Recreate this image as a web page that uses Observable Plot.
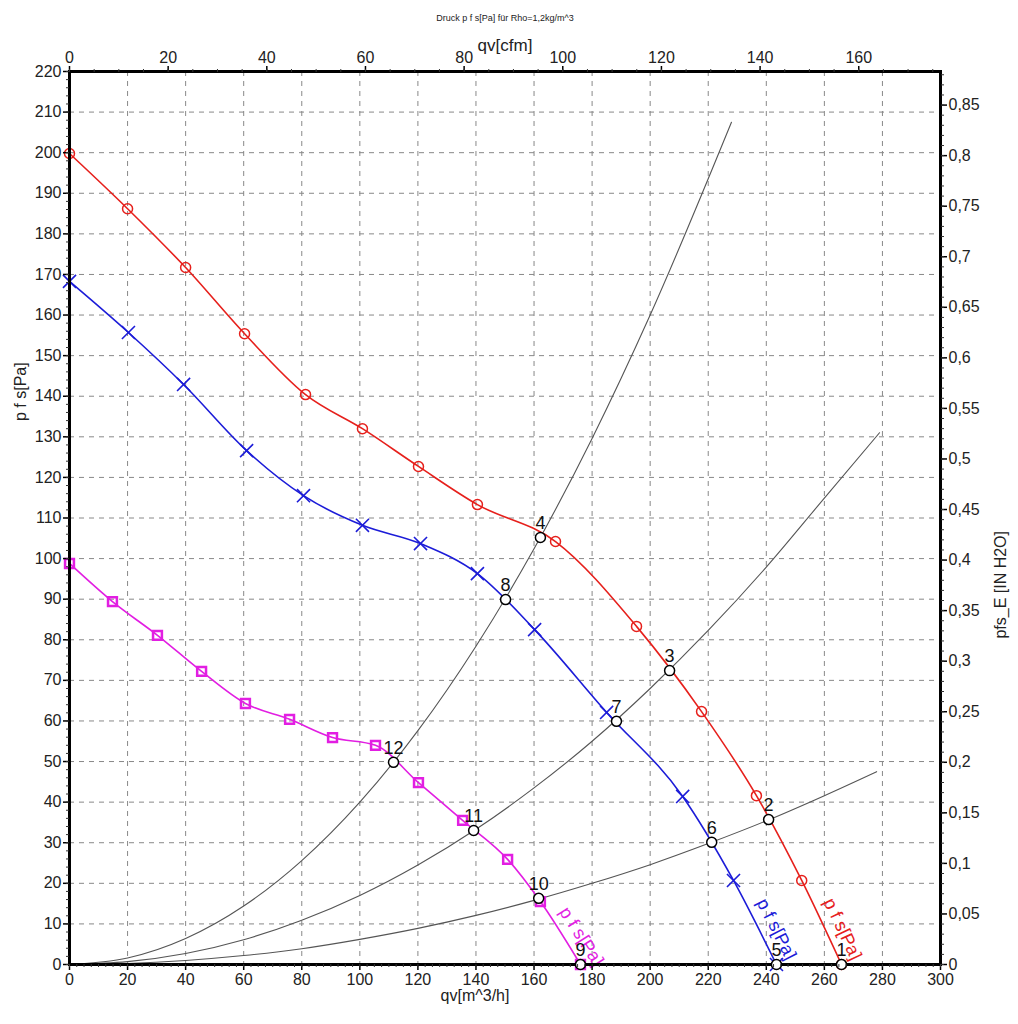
<!DOCTYPE html>
<html>
<head>
<meta charset="utf-8">
<script src="https://cdn.jsdelivr.net/npm/d3@7"></script>
<script src="https://cdn.jsdelivr.net/npm/@observablehq/plot@0.6"></script>
<style>
  html, body { margin: 0; padding: 0; background: #fff; }
</style>
</head>
<body>
<div id="chart"></div>
<script>
// ---- Data ----
const titleText = "Druck p f s[Pa] für Rho=1,2kg/m^3";
const xLabelBottom = "qv[m^3/h]";
const xLabelTop = "qv[cfm]";
const yLabelLeft = "p f s[Pa]";
const yLabelRight = "pfs_E [IN H2O]";
const curveLabelText = "p f s[Pa]";

// fan curves (qv m^3/h, p Pa)
const redQ = [0, 20, 40, 60.3, 81.3, 100.9, 120.2, 140.5, 167.4, 195.3, 217.7, 236.6, 252.2, 265.9];
const redP = [199.8, 186.2, 171.7, 155.4, 140.4, 132, 122.7, 113.3, 104.2, 83.3, 62.3, 41.6, 20.7, 0];
const blueQ = [0, 20.3, 39.3, 61, 80.6, 100.9, 120.9, 140.5, 160.2, 185, 211.2, 228.7, 243.5];
const blueP = [168.3, 155.7, 142.9, 126.6, 115.5, 108.2, 103.7, 96.3, 82.5, 62.1, 41.4, 20.7, 0];
const magQ = [0, 14.8, 30.3, 45.5, 60.6, 75.8, 90.6, 105.4, 120.2, 135.4, 150.9, 162.2, 176];
const magP = [98.8, 89.4, 81.1, 72.2, 64.3, 60.4, 55.9, 54, 44.8, 35.5, 25.9, 15.5, 0];

// system curves
const sysAQ = [0, 20, 40, 60, 80, 100, 120, 140, 160, 180, 200, 228];
const sysAP = [0, 1.6, 6.4, 14.4, 25.6, 40, 57.6, 78.4, 102.4, 129.6, 160, 207.5];
const sysBQ = [0, 20, 40, 60, 80, 100, 120, 140, 160, 180, 200, 220, 240, 260, 279];
const sysBP = [0, 0.7, 2.7, 6.1, 10.9, 17, 24.5, 33.3, 43.5, 55, 68, 82.3, 97.9, 114.9, 131];
const sysCQ = [0, 20, 40, 60, 80, 100, 120, 140, 160, 180, 200, 220, 240, 260, 278];
const sysCP = [0, 0.25, 1, 2.2, 3.9, 6.2, 8.9, 12.1, 15.8, 20, 24.6, 29.8, 35.4, 41.6, 47.5];

// operating points
const opN = ["1", "2", "3", "4", "5", "6", "7", "8", "9", "10", "11", "12"];
const opQ = [265.9, 240.8, 206.7, 162.2, 243.5, 221.2, 188.4, 150.2, 176, 161.6, 139.2, 111.6];
const opP = [0, 35.7, 72.4, 105.2, 0, 30.1, 59.9, 89.9, 0, 16.3, 33, 49.8];

// axis ticks
const bottomTicks = d3.range(0, 301, 20);
const leftTicks = d3.range(0, 221, 10);
const topTicksCfm = d3.range(0, 161, 20);
const rightTicksIn = d3.range(0, 18).map(i => +(i * 0.05).toFixed(2));

// unit conversions
const M3H_PER_CFM = 1.69901;
const INH2O_PER_PA = 0.00401463;

// ---- Layout ----
const W = 1018, H = 1024;
const mL = 69, mR = 78, mT = 71, mB = 60;
const kx = (W - mL - mR) / 300, ky = (H - mT - mB) / 220;

const RED = "#e6201c", BLUE = "#1c1cd8", MAG = "#e21ee2", GRAY = "#555";

const zip = (qs, ps) => qs.map((q, i) => ({q, p: ps[i]}));
const red = zip(redQ, redP), blue = zip(blueQ, blueP), mag = zip(magQ, magP);
const sysA = zip(sysAQ, sysAP), sysB = zip(sysBQ, sysBP), sysC = zip(sysCQ, sysCP);
const ops = opN.map((n, i) => ({n, q: opQ[i], p: opP[i]}));

function curveLabel(qs, ps, color) {
  const n = qs.length;
  const q1 = qs[n - 2], p1 = ps[n - 2], q2 = qs[n - 1], p2 = ps[n - 1];
  const t = 0.65;
  const angle = Math.atan2((p1 - p2) * ky, (q2 - q1) * kx) * 180 / Math.PI;
  return {q: q1 + t * (q2 - q1), p: p1 + t * (p2 - p1), rotate: angle, color};
}
const curveLabels = [
  curveLabel(redQ, redP, RED),
  curveLabel(blueQ, blueP, BLUE),
  curveLabel(magQ, magP, MAG)
];

const fmtIn = v => {
  const r = Math.round(v * INH2O_PER_PA * 100) / 100;
  return String(+r.toFixed(2)).replace(".", ",");
};

const chart = Plot.plot({
  width: W, height: H,
  marginLeft: mL, marginRight: mR, marginTop: mT, marginBottom: mB,
  style: {fontFamily: "'Liberation Sans', Arial, sans-serif", fontSize: "16px", color: "#222", background: "#fff"},
  x: {domain: [0, 300], axis: null},
  y: {domain: [0, 220], axis: null},
  marks: [
    // grid
    Plot.gridX({ticks: bottomTicks.filter(d => d > 0 && d < 300), stroke: "#888", strokeOpacity: 1, strokeDasharray: "5,5"}),
    Plot.gridY({ticks: leftTicks.filter(d => d > 0 && d < 220), stroke: "#888", strokeOpacity: 1, strokeDasharray: "5,5"}),

    // system curves
    Plot.line(sysA, {x: "q", y: "p", stroke: GRAY, strokeWidth: 1.1, curve: "monotone-x"}),
    Plot.line(sysB, {x: "q", y: "p", stroke: GRAY, strokeWidth: 1.1, curve: "monotone-x"}),
    Plot.line(sysC, {x: "q", y: "p", stroke: GRAY, strokeWidth: 1.1, curve: "monotone-x"}),

    // fan curves
    Plot.line(red, {x: "q", y: "p", stroke: RED, strokeWidth: 1.6, curve: "monotone-x"}),
    Plot.line(blue, {x: "q", y: "p", stroke: BLUE, strokeWidth: 1.6, curve: "monotone-x"}),
    Plot.line(mag, {x: "q", y: "p", stroke: MAG, strokeWidth: 1.6, curve: "monotone-x"}),

    Plot.dot(red, {x: "q", y: "p", r: 5, stroke: RED, strokeWidth: 1.5, fill: "none"}),
    Plot.dot(blue, {x: "q", y: "p", r: 6, symbol: "times", stroke: BLUE, strokeWidth: 1.6}),
    Plot.dot(mag, {x: "q", y: "p", r: 5, symbol: "square", stroke: MAG, strokeWidth: 2.5, fill: "none"}),

    // curve labels
    Plot.text(curveLabels, {x: "q", y: "p", text: () => curveLabelText, rotate: "rotate", fill: "color",
      fontSize: 18, dx: 15, dy: -6}),

    // frame
    Plot.frame({stroke: "black", strokeWidth: 3}),

    // operating points
    Plot.dot(ops, {x: "q", y: "p", r: 5, stroke: "black", strokeWidth: 1.5, fill: "white"}),
    Plot.text(ops, {x: "q", y: "p", text: "n", dy: -14, fontSize: 18, fill: "#111"}),

    // bottom axis
    Plot.axisX({anchor: "bottom", ticks: bottomTicks, tickSize: 6, tickPadding: 3, label: null, stroke: "black", strokeWidth: 1.5, fontSize: 16}),
    Plot.axisX({anchor: "bottom", ticks: d3.range(0, 301, 2.5), tickSize: 3, tickFormat: () => "", label: null, stroke: "#333"}),
    // top axis (cfm)
    Plot.axisX({anchor: "top", ticks: topTicksCfm.map(c => c * M3H_PER_CFM), tickFormat: v => String(Math.round(v / M3H_PER_CFM)),
      tickSize: 6, tickPadding: 3, label: null, stroke: "black", strokeWidth: 1.5, fontSize: 16}),
    Plot.axisX({anchor: "top", ticks: d3.range(0, 177, 5).map(c => c * M3H_PER_CFM), tickSize: 3, tickFormat: () => "", label: null, stroke: "#333"}),
    // left axis
    Plot.axisY({anchor: "left", ticks: leftTicks, tickSize: 6, tickPadding: 2, label: null, stroke: "black", strokeWidth: 1.5, fontSize: 16}),
    Plot.axisY({anchor: "left", ticks: d3.range(0, 221, 2), tickSize: 3, tickFormat: () => "", label: null, stroke: "#333"}),
    // right axis (in H2O)
    Plot.axisY({anchor: "right", ticks: rightTicksIn.map(v => v / INH2O_PER_PA), tickFormat: fmtIn,
      tickSize: 6, tickPadding: 2, label: null, stroke: "black", strokeWidth: 1.5, fontSize: 16}),
    Plot.axisY({anchor: "right", ticks: d3.range(0, 89).map(i => (i * 0.01) / INH2O_PER_PA), tickSize: 3, tickFormat: () => "", label: null, stroke: "#333"}),

    // titles and axis labels
    Plot.text([titleText], {text: d => d, frameAnchor: "top", dy: -57, fontSize: 9, fill: "#222"}),
    Plot.text([xLabelTop], {text: d => d, frameAnchor: "top", dy: -33, fontSize: 17, fill: "#222"}),
    Plot.text([xLabelBottom], {text: d => d, frameAnchor: "bottom", dx: -30, dy: 36, fontSize: 16, fill: "#222"}),
    Plot.text([yLabelLeft], {text: d => d, frameAnchor: "left", dx: -49, dy: -97, rotate: -90, fontSize: 16, fill: "#222"}),
    Plot.text([yLabelRight], {text: d => d, frameAnchor: "right", dx: 60, dy: 13, rotate: -90, fontSize: 16, fill: "#222"})
  ]
});
document.getElementById("chart").appendChild(chart);
</script>
</body>
</html>
